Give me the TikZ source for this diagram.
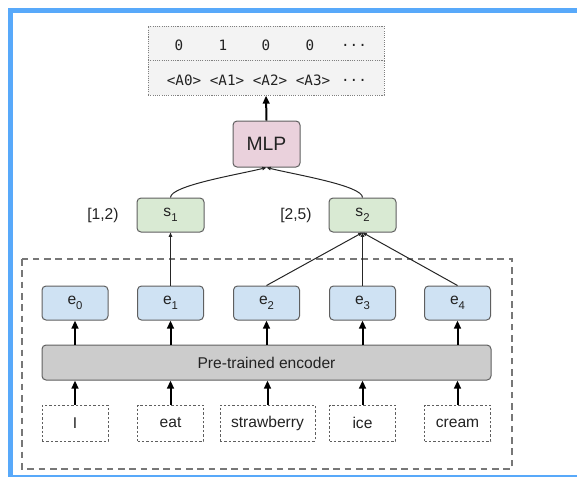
\documentclass[tikz,border=0pt]{standalone}
\usepackage{fontspec}
\setmainfont{Liberation Sans}
\newfontfamily\codefont{DejaVu Sans Mono}
\usetikzlibrary{arrows.meta}

\definecolor{framebl}{HTML}{58A9FA}
\definecolor{edgegray}{HTML}{5F5F5F}
\definecolor{txt}{HTML}{222222}
\definecolor{mlpfill}{HTML}{EAD1DC}
\definecolor{spanfill}{HTML}{D9EAD3}
\definecolor{embfill}{HTML}{CFE2F3}
\definecolor{encfill}{HTML}{CCCCCC}
\definecolor{tabfill}{HTML}{F3F3F3}

% lowered index digit for e_i and s_i
\newcommand{\subidx}[1]{\raisebox{-0.55ex}{\fontsize{8.5pt}{8.5pt}\selectfont #1}}

\tikzset{
  base/.style={text=txt, font=\fontsize{11.7pt}{13pt}\selectfont, inner sep=0pt},
  roundbox/.style={base, draw=edgegray, line width=0.75pt, rounded corners=3pt},
  embbox/.style={roundbox, fill=embfill, minimum width=49.5pt, minimum height=25.5pt},
  spanbox/.style={roundbox, fill=spanfill, minimum width=50.25pt, minimum height=25.5pt},
  mlpbox/.style={roundbox, fill=mlpfill, minimum width=50.25pt, minimum height=34.5pt,
                 font=\fontsize{14.5pt}{16pt}\selectfont},
  encbox/.style={roundbox, fill=encfill, minimum width=336.75pt, minimum height=26.25pt},
  wordbox/.style={base, draw=edgegray, line width=0.75pt, dash pattern=on 1.8pt off 1.5pt,
                  minimum width=49.5pt, minimum height=27pt},
  tabrow/.style={draw=edgegray!80, fill=tabfill, line width=0.6pt, dash pattern=on 0.8pt off 0.9pt,
                 minimum width=177pt, minimum height=25.9pt, inner sep=0pt},
  code/.style={text=txt, font=\codefont\fontsize{10.7pt}{12pt}\selectfont, inner sep=0pt},
  thick arrow/.style={line width=1.5pt, -{Triangle[length=6pt,width=5pt]}},
  thin arrow/.style={line width=0.75pt, draw=black!85, -{Triangle[length=3.2pt,width=2.6pt]}},
}

\begin{document}
\begin{tikzpicture}[x=0.75pt,y=-0.75pt]
\useasboundingbox (0,0) rectangle (577,476);

% outer frame
\begin{scope}
  \clip (0,0) rectangle (577,476);
  \draw[framebl, line width=3.4pt] (10.5,10.5) rectangle (640,477.6);
\end{scope}

% encoder region
\draw[edgegray!85, line width=1.1pt, dash pattern=on 5pt off 3.5pt] (22,259) rectangle (512,469);

% output table
\node[tabrow] (row1) at (266,43.5) {};
\node[tabrow] (row2) at (266,78) {};
\node[code] (v0) at (179,45) {0};
\node[code] (v1) at (223,45) {1};
\node[code] (v2) at (266,45) {0};
\node[code] (v3) at (310,45) {0};
\node[code] (v4) at (354,45) {...};
\node[code] (a0) at (184,80) {<A0>};
\node[code] (a1) at (227,80) {<A1>};
\node[code] (a2) at (270,80) {<A2>};
\node[code] (a3) at (313,80) {<A3>};
\node[code] (a4) at (354,80) {...};

% classifier and span representations
\node[mlpbox] (mlp) at (266.5,144) {MLP};
\node[spanbox] (s1) at (170.5,215) {s\subidx{1}};
\node[spanbox] (s2) at (362.5,215) {s\subidx{2}};
\node[base] (r1) at (103,215) {[1,2)};
\node[base] (r2) at (296,215) {[2,5)};

% token embeddings
\node[embbox] (e0) at (75,303) {e\subidx{0}};
\node[embbox] (e1) at (170.5,303) {e\subidx{1}};
\node[embbox] (e2) at (266.5,303) {e\subidx{2}};
\node[embbox] (e3) at (362.5,303) {e\subidx{3}};
\node[embbox] (e4) at (457.5,303) {e\subidx{4}};

\node[encbox] (enc) at (266.5,362.5) {Pre-trained encoder};

% input words
\node[wordbox] (w0) at (75,423) {I};
\node[wordbox] (w1) at (170.5,423) {eat};
\node[wordbox, minimum width=71.25pt] (w2) at (267.5,423) {strawberry};
\node[wordbox] (w3) at (362.5,423) {ice};
\node[wordbox] (w4) at (457.5,423) {cream};

% words into encoder, encoder into embeddings
\foreach \i in {0,...,4} {
  \draw[thick arrow] (w\i.north) -- (w\i.north |- enc.south);
  \draw[thick arrow] (e\i.south |- enc.north) -- (e\i.south);
}
\draw[thick arrow] (mlp.north) -- (row2.south);

% embeddings pooled into spans
\draw[thin arrow] (e1.north) -- (s1.south);
\draw[thin arrow] (e2.north) -- (s2.south);
\draw[thin arrow] (e3.north) -- (s2.south);
\draw[thin arrow] (e4.north) -- (s2.south);

% spans into the classifier
\draw[thin arrow] (s1.north) .. controls +(0,-12) and +(-28,7) .. (mlp.south);
\draw[thin arrow] (s2.north) .. controls +(0,-12) and +(28,7) .. (mlp.south);
\end{tikzpicture}
\end{document}
